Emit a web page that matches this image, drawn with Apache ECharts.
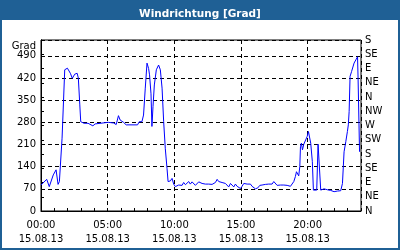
<!DOCTYPE html>
<html>
<head>
<meta charset="utf-8">
<script src="https://cdn.jsdelivr.net/npm/echarts@6/dist/echarts.min.js"></script>
<style>
html,body{margin:0;padding:0;background:#fff;}
#c{width:400px;height:250px;}
</style>
</head>
<body>
<div id="c"></div>
<script>
// Data (time in hours of 15.08.13, wind direction in degrees)
var times = [0.0,0.43,0.62,0.92,1.13,1.28,1.38,1.58,1.78,1.98,2.2,2.35,2.53,2.71,2.8,2.91,2.98,3.23,3.53,3.89,4.06,4.19,5.04,5.19,5.44,5.64,5.81,5.94,6.07,6.19,6.39,7.24,7.37,7.44,7.57,7.69,7.82,7.95,8.07,8.14,8.25,8.32,8.4,8.5,8.65,8.82,8.95,9.08,9.2,9.32,9.45,9.53,9.7,9.83,9.95,10.08,10.2,10.32,10.45,10.58,10.7,10.83,10.95,11.08,11.2,11.33,11.45,11.58,11.7,11.83,11.95,12.08,12.2,12.33,12.45,12.58,12.71,12.83,12.96,13.08,13.21,13.33,13.46,13.58,13.71,13.83,13.96,14.08,14.21,14.33,14.46,14.58,14.71,14.83,14.96,15.08,15.21,15.33,15.46,15.58,15.71,15.83,15.96,16.08,16.16,16.26,16.41,16.58,16.71,16.83,16.96,17.08,17.21,17.33,17.46,17.58,17.71,17.83,17.96,18.08,18.21,18.33,18.46,18.58,18.71,18.83,18.96,19.08,19.16,19.26,19.33,19.41,19.46,19.53,19.61,19.71,19.83,19.96,20.06,20.13,20.23,20.35,20.43,20.68,20.78,20.88,20.98,21.23,21.48,21.73,21.98,22.23,22.48,22.61,22.68,22.73,22.86,22.98,23.05,23.11,23.18,23.29,23.48,23.61,23.74,23.78,23.89];
var values = [82,100,77,114,130,84,93,230,446,451,435,419,432,435,420,335,282,277,277,269,275,281,280,285,278,273,301,287,285,280,272,272,282,276,282,303,388,467,450,430,370,267,330,398,446,461,446,388,282,198,135,93,95,103,85,77,79,82,85,81,90,83,87,93,85,92,87,81,87,92,95,87,85,85,87,85,87,84,87,90,100,93,96,90,96,87,82,76,87,82,76,85,78,76,71,78,87,89,85,82,85,78,76,70,64,73,81,82,81,84,87,85,89,85,93,87,81,85,82,76,82,85,81,78,78,81,93,109,124,119,111,140,203,214,193,211,214,235,251,249,214,156,66,66,211,211,66,70,67,65,61,63,64,87,145,187,219,251,272,314,425,440,467,477,487,420,187];

var leftTicks = [0,70,140,210,280,350,420,490];
var dirLabels = ['N','NE','E','SE','S','SW','W','NW','N','NE','E','SE','S'];
var hourLabels = ['00:00','05:00','10:00','15:00','20:00'];
var dateLabel = '15.08.13';
var titleText = 'Windrichtung [Grad]';
var unitText = 'Grad';

var FONT = 'DejaVu Sans';
var chart = echarts.init(document.getElementById('c'), null, {renderer:'canvas'});
var pts = times.map(function(t,i){return [t, values[i]];});

chart.setOption({
  animation:false,
  backgroundColor:'#ffffff',
  title:{
    text:titleText, left:'center', top:4,
    textStyle:{color:'#ffffff', fontFamily:FONT, fontWeight:'bold', fontSize:10.5}
  },
  graphic:[
    {type:'rect', z:-10, shape:{x:0,y:0,width:400,height:20}, style:{fill:'#1f6095'}},
    {type:'rect', z:-10, shape:{x:1,y:1,width:398,height:248}, style:{fill:null, stroke:'#1f6095', lineWidth:2}}
  ],
  grid:{left:41, right:39, top:40, bottom:39, show:true, borderColor:'#000', borderWidth:1, backgroundColor:'transparent'},
  xAxis:[
    {
      type:'value', min:0, max:24, interval:1,
      axisLine:{show:true, lineStyle:{color:'#000'}},
      axisTick:{show:true, inside:true, length:3, lineStyle:{color:'#000'}},
      splitLine:{show:false},
      axisLabel:{
        color:'#000', fontFamily:FONT, fontSize:10, margin:7, lineHeight:14,
        formatter:function(v){
          if (v % 5 === 0 && v/5 < hourLabels.length) return hourLabels[v/5] + '\n' + dateLabel;
          return '';
        }
      }
    },
    {
      type:'value', min:0, max:24, interval:5, position:'bottom',
      axisLine:{show:false}, axisTick:{show:false}, axisLabel:{show:false},
      splitLine:{show:true, lineStyle:{color:'#000', type:[4,3], width:1}}
    }
  ],
  yAxis:[
    {
      type:'value', min:0, max:540, interval:70, position:'left',
      name:unitText, nameLocation:'end', nameGap:-11,
      nameTextStyle:{color:'#000', fontFamily:FONT, fontSize:10, align:'right', padding:[0,5,0,0]},
      axisLine:{show:true, lineStyle:{color:'#000'}},
      axisTick:{show:false},
      axisLabel:{
        color:'#000', fontFamily:FONT, fontSize:10, margin:5,
        formatter:function(v){ return leftTicks.indexOf(v) >= 0 ? String(v) : ''; }
      },
      splitLine:{show:true, lineStyle:{color:'#000', type:[4,3], width:1}}
    },
    {
      type:'value', min:0, max:540, interval:45, position:'right',
      axisLine:{show:true, lineStyle:{color:'#000'}},
      axisTick:{show:true, inside:false, length:3, lineStyle:{color:'#000'}},
      axisLabel:{
        color:'#000', fontFamily:FONT, fontSize:10, margin:4,
        formatter:function(v){ var i = Math.round(v/45); return dirLabels[i] || ''; }
      },
      splitLine:{show:false}
    }
  ],
  series:[{
    type:'line', xAxisIndex:0, yAxisIndex:0, data:pts,
    showSymbol:false, symbol:'none',
    lineStyle:{color:'#0000ff', width:1},
    z:5
  }]
});
</script>
</body>
</html>
